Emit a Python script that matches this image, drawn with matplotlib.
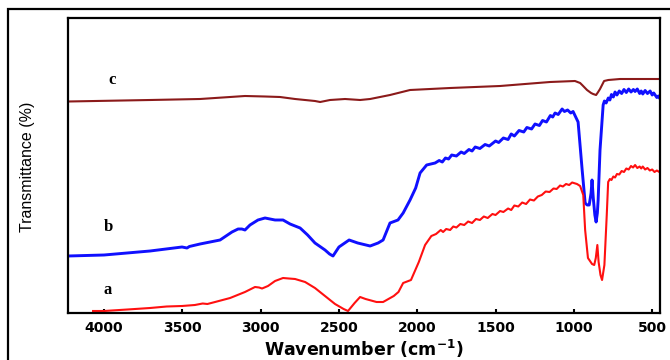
import matplotlib
matplotlib.use("Agg")
import matplotlib.pyplot as plt
from matplotlib.patches import Rectangle

# curve a (red)
wn_a = [4070, 4000, 3850, 3706, 3600, 3502, 3420, 3370, 3340, 3291, 3195, 3100, 3036, 3010,
        2991, 2953, 2908, 2857, 2820, 2780, 2716, 2653, 2589, 2525, 2470, 2442, 2400, 2365,
        2330, 2260, 2218, 2150, 2120, 2090, 2040, 1990, 1950, 1910, 1880, 1850,
        1835, 1815, 1790, 1770, 1750, 1725, 1700, 1675, 1650, 1625, 1600, 1575, 1550, 1520,
        1500, 1471, 1450, 1420, 1400, 1380, 1355, 1330, 1305, 1280, 1255, 1230, 1205, 1180,
        1155, 1130, 1110, 1088, 1070, 1050, 1030, 1011,
        980, 960, 940, 928, 910, 884, 870, 860, 850, 842, 830, 820, 805, 790,
        781, 770, 760, 748, 737, 725, 710, 695, 680, 665, 650, 635, 622, 609, 595, 580,
        570, 560, 545, 530, 515, 500, 485, 470, 449]
t_a = [2, 2, 3.5, 5, 6.5, 7, 8, 9.5, 9, 11, 15, 21, 26, 25.5,
       24.5, 27, 32, 35, 34.5, 34, 31, 25, 17, 9, 4, 2, 10, 16,
       14, 11, 11, 17, 21, 30, 33, 51, 68, 77, 79, 83,
       81, 84, 83, 86.5, 85.5, 89, 88, 91.5, 90, 94, 93, 96.5, 95, 99,
       98, 102, 101, 104.5, 103, 107.5, 106.5, 110.5, 109, 113.5, 112.5, 116.5, 118, 121.5,
       121, 124.5, 124, 127.5, 126.5, 129, 128, 130.5,
       129, 127, 118, 83, 55, 49, 48, 55, 68, 51, 38, 33, 48, 98,
       131, 134, 133, 136.5, 135.5, 139, 138.5, 142, 141, 144.5, 143.5, 147, 145.5, 148, 145, 146.5,
       144.5, 146.5, 143.5, 145, 142.5, 143.5, 141, 142.5, 140.5]

# curve b (blue)
wn_b = [4230, 4000, 3706, 3502, 3470, 3455, 3387, 3259, 3183, 3144, 3120, 3100, 3068, 3017,
        2972, 2940, 2908, 2857, 2812, 2748, 2700, 2653, 2589, 2560, 2538, 2500, 2435, 2380,
        2301, 2250, 2218, 2174, 2123, 2090, 2046, 2010, 1982, 1940,
        1886, 1860, 1840, 1820, 1800, 1780, 1750, 1720, 1700, 1670, 1650, 1630, 1600, 1567,
        1540, 1500, 1480, 1450, 1420, 1400, 1380, 1350, 1320, 1300, 1270, 1248, 1220, 1200,
        1175, 1150, 1135, 1120, 1100, 1075, 1060, 1040, 1020, 1005,
        973, 947, 928, 915, 902, 890, 884, 876, 866, 858, 850, 845, 833,
        813, 805, 794, 780, 770, 760, 748, 737, 725, 710, 695, 680, 665, 650, 635, 620,
        609, 595, 580, 570, 560, 545, 530, 513, 500, 490, 470, 460, 449]
t_b = [57, 58, 62, 66, 65, 66.5, 69, 73, 81, 84, 84, 83, 88, 93,
       95, 94, 93, 93, 89, 85, 78, 70, 63, 59, 57, 66, 73, 70,
       67, 70, 73, 90, 93, 100, 113, 125, 140, 148,
       150, 152.5, 151, 155, 154, 158, 157, 161, 159.5, 163.5, 162, 166, 164.5, 168.5,
       167, 172, 170.5, 175, 173.5, 179, 177, 182.5, 181, 185.5, 184, 189, 187.5, 192.5,
       191, 197.5, 196, 200, 198.5, 204, 201.5, 203, 200, 201.5,
       191, 143, 110, 108, 108, 120, 133, 115, 98, 91, 100, 113, 163,
       208, 212, 210, 215, 213, 218.5, 216, 221, 218, 222, 219.5, 223.5, 220.5, 224, 221, 223.5,
       221.5, 224, 219.5, 222, 219, 222.5, 219.5, 222, 218, 220, 215.5, 217, 214]

# curve c (dark red)
wn_c = [4230, 3706, 3387, 3195, 3100, 2972, 2876, 2780, 2653, 2620, 2557, 2461, 2365, 2301,
        2174, 2046, 1790, 1471, 1152, 993, 960, 947, 916, 890, 877, 858, 845, 833, 807,
        780, 705, 600, 449]
t_c = [211.5, 213, 214, 216, 217, 216.5, 216, 214, 212, 211, 213, 214, 213, 214,
       218, 223, 225, 227, 231, 232, 230, 228, 223, 220, 219, 218, 221, 224, 232,
       233, 234, 234, 234]

curve_labels = ["a", "b", "c"]
label_wn = [3975, 3975, 3949]
label_t = [23, 86, 233]

fig = plt.figure(figsize=(6.7, 3.6), dpi=100)
fig.patches.append(Rectangle((8 / 670, -0.5), 2, 1.5 - 8.5 / 360, transform=fig.transFigure,
                             fill=False, edgecolor="black", linewidth=1.6))
ax = fig.add_axes([68 / 670, 1 - 313 / 360, 592 / 670, 295 / 360])

ax.plot(wn_c, t_c, color="#8b1a1a", lw=1.5)
ax.plot(wn_b, t_b, color="#1010ff", lw=2.1)
ax.plot(wn_a, t_a, color="#ff1010", lw=1.5)

for s, x, y in zip(curve_labels, label_wn, label_t):
    ax.text(x, y, s, ha="center", va="center", fontsize=12, fontweight="bold",
            family="Liberation Serif")

ax.set_xlim(4230, 450)
ax.set_ylim(0, 295)
ax.set_xticks([4000, 3500, 3000, 2500, 2000, 1500, 1000, 500])
ax.set_yticks([])
ax.tick_params(axis="x", direction="in", length=3, width=1.5, pad=6, labelsize=10)
for lab in ax.get_xticklabels():
    lab.set_fontweight("bold")
for sp in ax.spines.values():
    sp.set_linewidth(1.6)

ax.set_xlabel("Wavenumber (cm$^{\\mathbf{-1}}$)", fontsize=12.5, fontweight="bold")
ax.xaxis.set_label_coords(0.5, -0.085)
ax.set_ylabel("Transmittance (%)", fontsize=11.5, family="Liberation Sans")
ax.yaxis.set_label_coords(-0.055, 0.495)

fig.savefig("out.png", dpi=100)
